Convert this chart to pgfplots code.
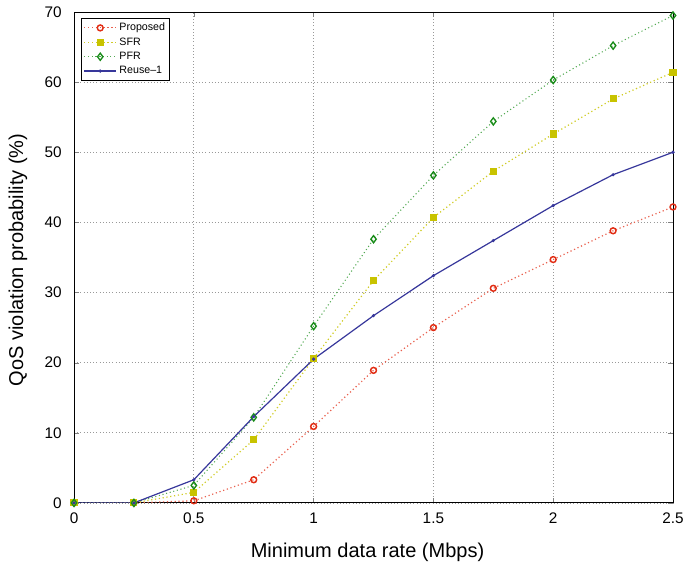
\documentclass[border=0pt]{standalone}
\usepackage{pgfplots}
\pgfplotsset{compat=1.18}
\usepackage{fontspec}
\setmainfont{Liberation Sans}
\definecolor{cred}{RGB}{225,45,20}
\definecolor{cyel}{RGB}{200,195,0}
\definecolor{cgrn}{RGB}{25,140,25}
\definecolor{cblu}{RGB}{55,55,155}
\begin{document}
\begin{tikzpicture}
\begin{axis}[
  scale only axis,
  width=449pt, height=368pt,
  xmin=0, xmax=2.5, ymin=0, ymax=70,
  xtick={0,0.5,1,1.5,2,2.5},
  xticklabels={0,0.5,1,1.5,2,2.5},
  ytick={0,10,20,30,40,50,60,70},
  /pgf/number format/assume math mode=true,
  tick label style={font=\fontsize{11.5}{13}\selectfont},
  xticklabel style={anchor=north, inner sep=0pt, yshift=-7.5pt},
  yticklabel style={anchor=east, inner sep=0pt, xshift=-9pt},
  xlabel={Minimum data rate (Mbps)},
  ylabel={QoS violation probability (\%)},
  xlabel style={font=\fontsize{15}{17}\selectfont, at={(axis description cs:0.49,0)}, anchor=base, yshift=-41pt},
  ylabel style={font=\fontsize{15}{17}\selectfont, at={(axis description cs:-0.0935,0.495)}, anchor=center},
  grid=major,
  major grid style={dotted, gray!80, line width=0.6pt},
  major tick length=4pt,
  tick align=inside,
  tick pos=both,
  axis line style={line width=0.7pt},
  legend style={font=\fontsize{8}{9}\selectfont, draw=black, line width=0.7pt, inner sep=1.5pt, row sep=-0.3pt, at={(0.012,0.988)}, anchor=north west},
  legend cell align=left,
  legend image code/.code={\draw[mark repeat=2,mark phase=2] plot coordinates {(0cm,0cm) (0.42cm,0cm) (0.84cm,0cm)};},
]
\addplot[cred!75, dotted, line width=0.9pt, mark=o, mark size=2.2pt, mark options={solid, draw=cred, line width=1.1pt}] coordinates {
(0,0) (0.25,0) (0.5,0.3) (0.75,3.3) (1,10.9) (1.25,18.9) (1.5,25.0) (1.75,30.6) (2,34.7) (2.25,38.8) (2.5,42.2)};
\addlegendentry{Proposed}
\addplot[cyel!85, dotted, line width=0.9pt, mark=square*, mark size=2.2pt, mark options={solid, fill=cyel, draw=cyel}] coordinates {
(0,0) (0.25,0) (0.5,1.5) (0.75,9.0) (1,20.6) (1.25,31.7) (1.5,40.7) (1.75,47.3) (2,52.6) (2.25,57.6) (2.5,61.4)};
\addlegendentry{SFR}
\addplot[cgrn!75, dotted, line width=0.8pt, mark=diamond, mark size=2.7pt, mark options={solid, draw=cgrn, line width=1pt}] coordinates {
(0,0) (0.25,0) (0.5,2.5) (0.75,12.2) (1,25.2) (1.25,37.6) (1.5,46.7) (1.75,54.4) (2,60.3) (2.25,65.2) (2.5,69.5)};
\addlegendentry{PFR}
\addplot[cblu, solid, line width=0.9pt, mark=*, mark size=0.7pt] coordinates {
(0,0) (0.25,0) (0.5,3.3) (0.75,12.3) (1,20.5) (1.25,26.7) (1.5,32.4) (1.75,37.4) (2,42.4) (2.25,46.8) (2.5,50.0)};
\addlegendentry{Reuse--1}
\end{axis}
\path (current axis.south west) ++(-55.5pt,-49.5pt) coordinate (bbA);
\path (current axis.north east) ++(9.75pt,9pt) coordinate (bbB);
\end{tikzpicture}
\end{document}
